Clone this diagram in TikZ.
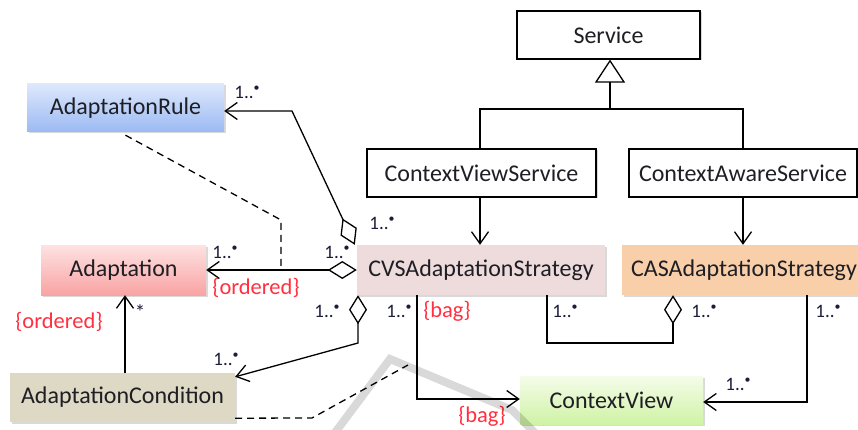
\documentclass[tikz,border=0pt]{standalone}
\usepackage{fontspec}
\setmainfont{Carlito}
\usetikzlibrary{arrows.meta,calc,shadows}

\definecolor{txt}{RGB}{30,30,36}
\definecolor{multc}{RGB}{28,28,60}
\definecolor{redlbl}{RGB}{255,48,64}
\definecolor{ruletop}{RGB}{222,232,252}
\definecolor{rulebot}{RGB}{155,186,243}
\definecolor{adtop}{RGB}{254,226,226}
\definecolor{adbot}{RGB}{249,163,163}
\definecolor{cvsfill}{RGB}{238,220,220}
\definecolor{casfill}{RGB}{249,207,169}
\definecolor{condfill}{RGB}{221,217,196}
\definecolor{cvtop}{RGB}{245,252,234}
\definecolor{cvbot}{RGB}{207,243,165}

\newcommand\multlbl{1..\raisebox{0.36em}{\fontsize{12}{12}\selectfont •}}

\begin{document}
\begin{tikzpicture}[x=1pt,y=-1pt,
  shad/.style={drop shadow={shadow xshift=1.5pt,shadow yshift=-1.5pt,opacity=0.3}},
  cls/.style={draw=black,line width=1.2pt,fill=white,minimum height=48pt,inner sep=0pt,
    font=\fontsize{24}{28}\selectfont,text=txt,shad},
  box/.style={draw=none,minimum height=48pt,inner sep=0pt,
    font=\fontsize{24}{28}\selectfont,text=txt,shad},
  ln/.style={draw=black,line width=1.3pt,line join=miter},
  dsh/.style={draw=black,line width=1.3pt,dash pattern=on 7pt off 5pt},
  barb/.tip={Straight Barb[length=12pt,width=17pt]},
  agg/.tip={Diamond[length=29pt,width=18pt,fill=white]},
  mlt/.style={inner sep=0pt,text=multc,font=\fontsize{19}{21}\selectfont},
  red/.style={inner sep=0pt,text=redlbl,font=\fontsize{22.5}{24}\selectfont}
]
\useasboundingbox (0,0) rectangle (858,430);

% classes
\node[cls,minimum width=183pt] (service) at (608.5,35) {Service};
\node[cls,minimum width=229pt] (cvsvc) at (481.5,173) {ContextViewService};
\node[cls,minimum width=228pt] (casvc) at (743,173) {ContextAwareService};
\node[box,fill=cvsfill,minimum width=248pt,minimum height=50pt] (cvs) at (481,270) {CVSAdaptationStrategy};
\node[box,fill=casfill,minimum width=244pt,minimum height=50pt] (cas) at (744,270) {CASAdaptationStrategy};
\node[box,top color=ruletop,bottom color=rulebot,minimum width=197pt] (rule) at (125.5,108) {AdaptationRule};
\node[box,top color=adtop,bottom color=adbot,minimum width=165pt,minimum height=50pt] (adapt) at (123.5,270) {Adaptation};
\node[box,fill=condfill,minimum width=225pt,minimum height=49pt] (cond) at (122.5,397.5) {AdaptationCondition};
\node[box,top color=cvtop,bottom color=cvbot,minimum width=183pt] (cv) at (611.5,400) {ContextView};

% generalisation
\coordinate (gj) at (610,109);
\coordinate (gl) at (480,109);
\coordinate (gr) at (743,109);
\draw[ln,-{Triangle[open,length=23pt,width=30pt]}] (gj) -- (gj |- service.south);
\draw[ln] (gl |- cvsvc.north) -- (gl) -- (gr) -- (gr |- casvc.north);

% service to strategy
\draw[ln,-{barb}] (gl |- cvsvc.south) -- (gl |- cvs.north);
\draw[ln,-{barb}] (gr |- casvc.south) -- (gr |- cas.north);

% aggregations of CVSAdaptationStrategy
\draw[ln,{agg}-{barb}] (cvs.west) -- (adapt.east);
\coordinate (rk) at (292,111);
\draw[ln,{agg}-{barb}] ($(cvs.north west)+(-2,0)$) -- (rk) -- (rk -| rule.east);
\coordinate (b1) at (358,343);
\draw[ln,{agg}-{barb}] (b1 |- cvs.south) -- (b1) -- ($(cond.north east)+(0,4)$);

% CVSAdaptationStrategy to ContextView
\coordinate (b2) at (417,0);
\draw[ln,-{barb}] (b2 |- cvs.south) |- ($(cv.west)+(0,-1)$);

% CVSAdaptationStrategy to CASAdaptationStrategy
\coordinate (b3) at (547,343);
\coordinate (b4) at (673,343);
\draw[ln,-{agg}] (b3 |- cvs.south) -- (b3) -- (b4) -- (b4 |- cas.south);

% CASAdaptationStrategy to ContextView
\coordinate (b5) at (807,0);
\draw[ln,-{barb}] (b5 |- cas.south) |- ($(cv.east)+(0,2)$);

% AdaptationCondition to Adaptation
\coordinate (b6) at (125,0);
\draw[ln,-{barb}] (b6 |- cond.north) -- (b6 |- adapt.south);

% dashed links
\coordinate (dk) at (281,220);
\draw[dsh] ($(rule.south)+(0,3)$) -- (dk) -- (dk |- adapt.east);
\coordinate (d2) at (312,418);
\coordinate (d3) at (408,365);
\draw[dsh] ($(cond.south east)+(0,-4)$) -- (d2) -- (d3);

% multiplicities
\node[mlt] (m1) at (247,92) {\multlbl};
\node[mlt] (m2) at (382,223) {\multlbl};
\node[mlt] (m3) at (225,252) {\multlbl};
\node[mlt] (m4) at (337,252) {\multlbl};
\node[mlt] (m5) at (327,311) {\multlbl};
\node[mlt] (m6) at (226,359) {\multlbl};
\node[mlt] (m7) at (399,311) {\multlbl};
\node[mlt] (m8) at (565,311) {\multlbl};
\node[mlt] (m9) at (704,311) {\multlbl};
\node[mlt] (m10) at (828,311) {\multlbl};
\node[mlt] (m11) at (738,384) {\multlbl};
\node[mlt,font=\fontsize{21}{21}\selectfont] (m12) at (140,312) {*};

% constraints
\node[red] (o1) at (256,288) {\{ordered\}};
\node[red] (o2) at (59,322) {\{ordered\}};
\node[red] (g1) at (447,311) {\{bag\}};
\node[red] (g2) at (482,416.5) {\{bag\}};

% faint mark across the lower part
\draw[line width=8pt,black,opacity=0.15,line join=miter]
  (331,438) -- (390,359) -- (512,410) -- (540,438);
\end{tikzpicture}
\end{document}
